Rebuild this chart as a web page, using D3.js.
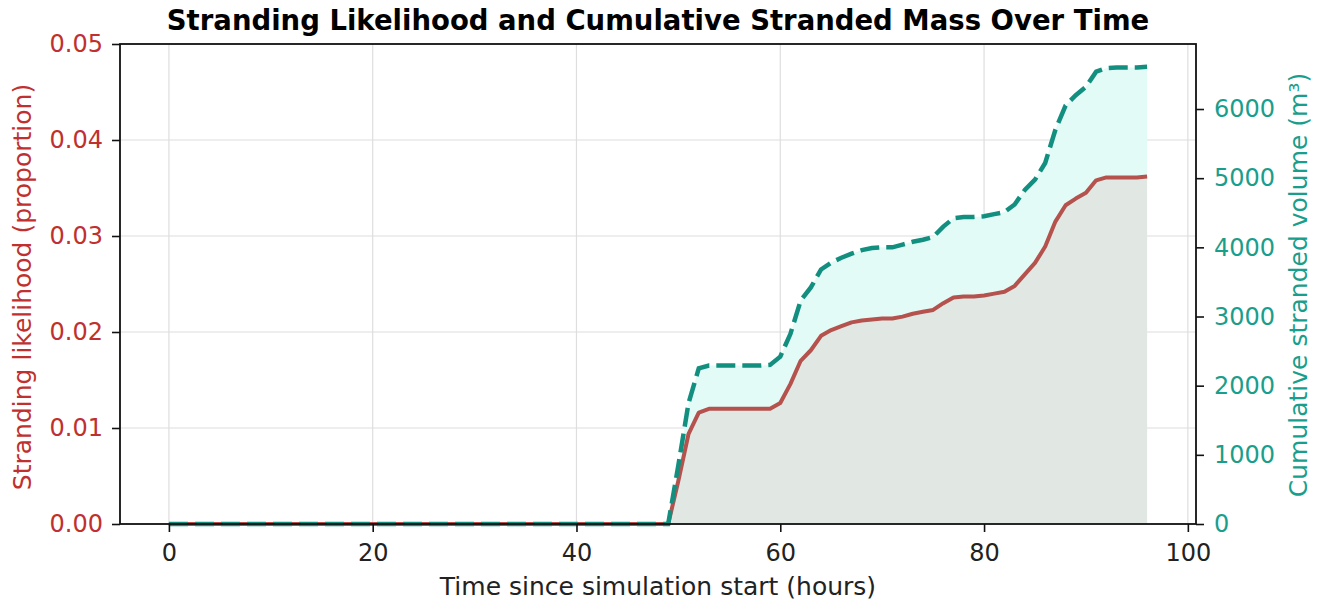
<!DOCTYPE html>
<html>
<head>
<meta charset="utf-8">
<script src="https://cdn.jsdelivr.net/npm/d3@7"></script>
<style>
  body { margin: 0; background: #fff; }
  text { font-family: "DejaVu Sans", sans-serif; }
</style>
</head>
<body>
<div id="chart"></div>
<script>
// hourly time steps
var hours = d3.range(0, 97);

// stranding likelihood (proportion), hours 0..96
var likelihood = [
  0,0,0,0,0,0,0,0,0,0, 0,0,0,0,0,0,0,0,0,0,
  0,0,0,0,0,0,0,0,0,0, 0,0,0,0,0,0,0,0,0,0,
  0,0,0,0,0,0,0,0,0,0,
  0.0045, 0.0094, 0.0116, 0.0120, 0.0120, 0.0120, 0.0120, 0.0120, 0.0120, 0.0120,
  0.0126, 0.0146, 0.0170, 0.0181, 0.0196, 0.0202, 0.0206, 0.0210, 0.0212, 0.0213,
  0.0214, 0.0214, 0.0216, 0.0219, 0.0221, 0.0223, 0.0230, 0.0236, 0.0237, 0.0237,
  0.0238, 0.0240, 0.0242, 0.0248, 0.0260, 0.0272, 0.0289, 0.0315, 0.0332, 0.0339,
  0.0345, 0.0358, 0.0361, 0.0361, 0.0361, 0.0361, 0.0362
];

// cumulative stranded volume (m3), hours 0..96
var volume = [
  0,0,0,0,0,0,0,0,0,0, 0,0,0,0,0,0,0,0,0,0,
  0,0,0,0,0,0,0,0,0,0, 0,0,0,0,0,0,0,0,0,0,
  0,0,0,0,0,0,0,0,0,0,
  850, 1750, 2250, 2290, 2290, 2290, 2290, 2290, 2290, 2300,
  2420, 2750, 3230, 3420, 3680, 3780, 3850, 3910, 3960, 3990,
  4000, 4000, 4040, 4080, 4110, 4150, 4300, 4420, 4440, 4440,
  4450, 4480, 4510, 4620, 4830, 4980, 5220, 5700, 6050, 6200,
  6320, 6540, 6590, 6600, 6600, 6600, 6610
];

var xTicks = [0, 20, 40, 60, 80, 100];
var leftTicks = [0, 0.01, 0.02, 0.03, 0.04, 0.05];
var rightTicks = [0, 1000, 2000, 3000, 4000, 5000, 6000];

var margin = {top: 44, right: 124, bottom: 80, left: 120},
    width = 1320 - margin.left - margin.right,
    height = 604 - margin.top - margin.bottom;

var red = "#b5524e", redText = "#c0302f", teal = "#138f80", tealText = "#1a9e8c";

var svg = d3.select("#chart")
  .append("svg")
    .attr("width", 1320)
    .attr("height", 604)
  .append("g")
    .attr("transform", "translate(" + margin.left + "," + margin.top + ")");

var x = d3.scaleLinear().domain([-4.8, 100.8]).range([0, width]);
var yL = d3.scaleLinear().domain([0, 0.05]).range([height, 0]);
var yR = d3.scaleLinear().domain([0, 6940]).range([height, 0]);

var data = hours.map(function(h, i) { return {h: h, p: likelihood[i], v: volume[i]}; });

// grid
svg.append("g").selectAll("line.gx")
  .data(xTicks).enter().append("line")
    .attr("x1", function(d) { return x(d); })
    .attr("x2", function(d) { return x(d); })
    .attr("y1", 0).attr("y2", height)
    .attr("stroke", "#dedede").attr("stroke-width", 1.2);
svg.append("g").selectAll("line.gy")
  .data(leftTicks).enter().append("line")
    .attr("x1", 0).attr("x2", width)
    .attr("y1", function(d) { return yL(d); })
    .attr("y2", function(d) { return yL(d); })
    .attr("stroke", "#dedede").attr("stroke-width", 1.2);

// fills
svg.append("path")
  .datum(data)
  .attr("fill", "#e2fbf7")
  .attr("d", d3.area()
    .x(function(d) { return x(d.h); })
    .y0(yR(0))
    .y1(function(d) { return yR(d.v); }));

svg.append("path")
  .datum(data)
  .attr("fill", "#e1e8e4")
  .attr("d", d3.area()
    .x(function(d) { return x(d.h); })
    .y0(yL(0))
    .y1(function(d) { return yL(d.p); }));

// lines
svg.append("path")
  .datum(data)
  .attr("fill", "none")
  .attr("stroke", red)
  .attr("stroke-width", 4)
  .attr("stroke-linejoin", "round")
  .attr("d", d3.line()
    .x(function(d) { return x(d.h); })
    .y(function(d) { return yL(d.p); }));

svg.append("path")
  .datum(data)
  .attr("fill", "none")
  .attr("stroke", teal)
  .attr("stroke-width", 4.5)
  .attr("stroke-dasharray", "19,7")
  .attr("d", d3.line()
    .x(function(d) { return x(d.h); })
    .y(function(d) { return yR(d.v); }));

// axes
var xAxis = svg.append("g")
  .attr("transform", "translate(0," + height + ")")
  .call(d3.axisBottom(x).tickValues(xTicks).tickSize(8).tickPadding(12).tickFormat(d3.format("d")));
xAxis.selectAll("text").attr("fill", "#222").style("font-size", "24px");

var lAxis = svg.append("g")
  .call(d3.axisLeft(yL).tickValues(leftTicks).tickSize(8).tickPadding(9).tickFormat(d3.format(".2f")));
lAxis.selectAll("text").attr("fill", redText).style("font-size", "24px");

var rAxis = svg.append("g")
  .attr("transform", "translate(" + width + ",0)")
  .call(d3.axisRight(yR).tickValues(rightTicks).tickSize(8).tickPadding(10).tickFormat(d3.format("d")));
rAxis.selectAll("text").attr("fill", tealText).style("font-size", "24px");

[xAxis, lAxis, rAxis].forEach(function(a) {
  a.select(".domain").remove();
  a.selectAll("line").attr("stroke", "#111").attr("stroke-width", 1.6);
});

// frame
svg.append("rect")
  .attr("width", width).attr("height", height)
  .attr("fill", "none").attr("stroke", "#111").attr("stroke-width", 1.8);

// labels
svg.append("text")
  .attr("x", width / 2).attr("y", -14)
  .attr("text-anchor", "middle")
  .style("font-size", "27.5px").style("font-weight", "bold")
  .text("Stranding Likelihood and Cumulative Stranded Mass Over Time");

svg.append("text")
  .attr("x", width / 2).attr("y", height + 71)
  .attr("text-anchor", "middle")
  .style("font-size", "25px").attr("fill", "#222")
  .text("Time since simulation start (hours)");

svg.append("text")
  .attr("transform", "translate(-89," + (height / 2 + 3) + ") rotate(-90)")
  .attr("text-anchor", "middle")
  .style("font-size", "25px").attr("fill", redText)
  .text("Stranding likelihood (proportion)");

svg.append("text")
  .attr("transform", "translate(" + (width + 111) + "," + (height / 2 + 1) + ") rotate(-90)")
  .attr("text-anchor", "middle")
  .style("font-size", "25px").attr("fill", tealText)
  .text("Cumulative stranded volume (m³)");
</script>
</body>
</html>
